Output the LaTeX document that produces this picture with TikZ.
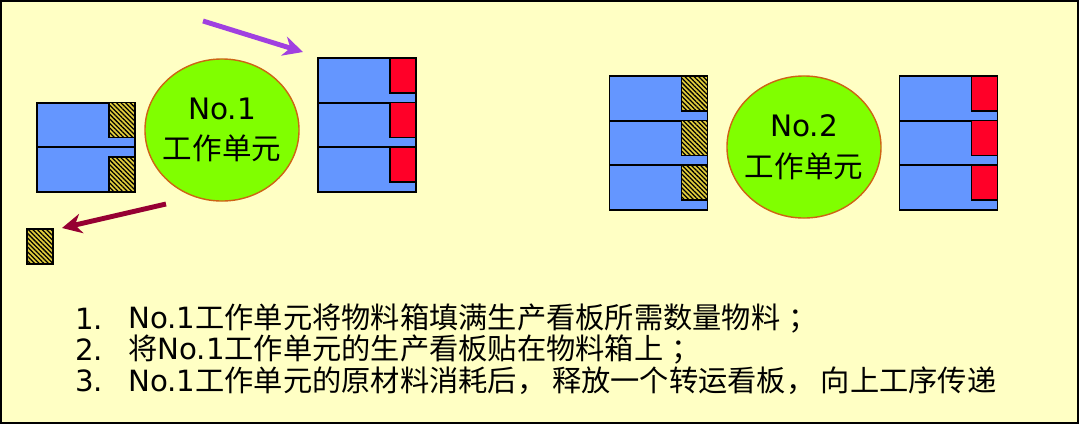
\documentclass[tikz,border=0pt]{standalone}
\usepackage{fontspec}
\setmainfont{DejaVu Sans}
\newfontfamily\cjk{Noto Sans CJK SC}
\usetikzlibrary{shapes.geometric,arrows.meta,patterns.meta}

\definecolor{bgyellow}{RGB}{255,255,196}
\definecolor{binblue}{RGB}{100,150,255}
\definecolor{cardred}{RGB}{255,0,40}
\definecolor{hatchyellow}{RGB}{225,205,60}
\definecolor{cellgreen}{RGB}{128,255,0}
\definecolor{cellrim}{RGB}{205,100,20}
\definecolor{flowpurple}{RGB}{160,64,224}
\definecolor{flowmaroon}{RGB}{150,0,50}

\begin{document}
\begin{tikzpicture}
        [x=0.025cm,y=-0.025cm,
         bin/.style={rectangle,draw,line width=1.3pt,fill=binblue,minimum width=2.45cm,minimum height=1.11cm,inner sep=0pt},
         prodcard/.style={rectangle,draw,line width=1.1pt,fill=cardred,minimum width=0.65cm,minimum height=0.875cm,inner sep=0pt},
         movecard/.style={rectangle,draw,line width=1.1pt,fill=hatchyellow,minimum width=0.65cm,minimum height=0.875cm,inner sep=0pt,
                          postaction={pattern={Lines[angle=-45,distance=2.3pt,line width=0.9pt]},pattern color=black}},
         cell/.style={ellipse,draw=cellrim,line width=1pt,fill=cellgreen,minimum width=3.85cm,minimum height=3.55cm,inner sep=0pt},
         celltext/.style={align=center,inner sep=0pt,font=\fontsize{21}{29}\selectfont},
         flow/.style={line width=3.5pt,-{Stealth[length=14pt,width=14pt]}},
         txt/.style={anchor=west,inner sep=0pt,font=\fontsize{20.8}{25}\selectfont}]

        % frame
        \path[use as bounding box] (0,0) rectangle (1080,430);
        \draw[line width=1.2pt,fill=bgyellow] (1,1) rectangle (1078,423);

        % No.1 in
        \node[bin]  (a1) at      (86,125)       {};
        \node[bin]  (a2) at      (86,169.5)     {};
        \node[movecard,anchor=north east]  (ka1) at (a1.north east) {};
        \node[movecard,anchor=south east]  (ka2) at (a2.south east) {};

        % No.1 out
        \node[bin]  (b1) at      (367,80.5)     {};
        \node[bin]  (b2) at      (367,125)      {};
        \node[bin]  (b3) at      (367,169.5)    {};
        \node[prodcard,anchor=north east]  (kb1) at (b1.north east) {};
        \node[prodcard,anchor=north east]  (kb2) at (b2.north east) {};
        \node[prodcard,anchor=north east]  (kb3) at (b3.north east) {};

        % No.2 in
        \node[bin]  (c1) at      (658.5,98.5)   {};
        \node[bin]  (c2) at      (658.5,143)    {};
        \node[bin]  (c3) at      (658.5,187.5)  {};
        \node[movecard,anchor=north east]  (kc1) at (c1.north east) {};
        \node[movecard,anchor=north east]  (kc2) at (c2.north east) {};
        \node[movecard,anchor=north east]  (kc3) at (c3.north east) {};

        % No.2 out
        \node[bin]  (d1) at      (948.5,98.5)   {};
        \node[bin]  (d2) at      (948.5,143)    {};
        \node[bin]  (d3) at      (948.5,187.5)  {};
        \node[prodcard,anchor=north east]  (kd1) at (d1.north east) {};
        \node[prodcard,anchor=north east]  (kd2) at (d2.north east) {};
        \node[prodcard,anchor=north east]  (kd3) at (d3.north east) {};

        % cells
        \node[cell] (cell1) at   (222,130)      {};
        \node[cell] (cell2) at   (804,147)      {};
        \node[celltext] (lab1) at (cell1.center) {No.1\\{\cjk 工作单元}};
        \node[celltext] (lab2) at (cell2.center) {No.2\\{\cjk 工作单元}};

        % released card
        \node[movecard] (loose) at (40,246.5)   {};

        % arrows
        \coordinate (pin)  at (203,21);
        \coordinate (pout) at (303,52);
        \coordinate (rin)  at (166,204);
        \coordinate (rout) at (62,228);
        \draw[flow,flowpurple] (pin) -- (pout);
        \draw[flow,flowmaroon] (rin) -- (rout);

        % steps
        \node[txt] (n1) at (75,319)  {1.};
        \node[txt] (n2) at (75,350)  {2.};
        \node[txt] (n3) at (75,381)  {3.};
        \node[txt] (t1) at (128,319) {No.1{\cjk 工作单元将物料箱填满生产看板所需数量物料\hspace{6pt}；}};
        \node[txt] (t2) at (128,350) {{\cjk 将}No.1{\cjk 工作单元的生产看板贴在物料箱上\hspace{6pt}；}};
        \node[txt] (t3) at (128,381) {No.1{\cjk 工作单元的原材料消耗后，\hspace{4pt}释放一个转运看板，\hspace{4pt}向上工序传递}};
\end{tikzpicture}
\end{document}
